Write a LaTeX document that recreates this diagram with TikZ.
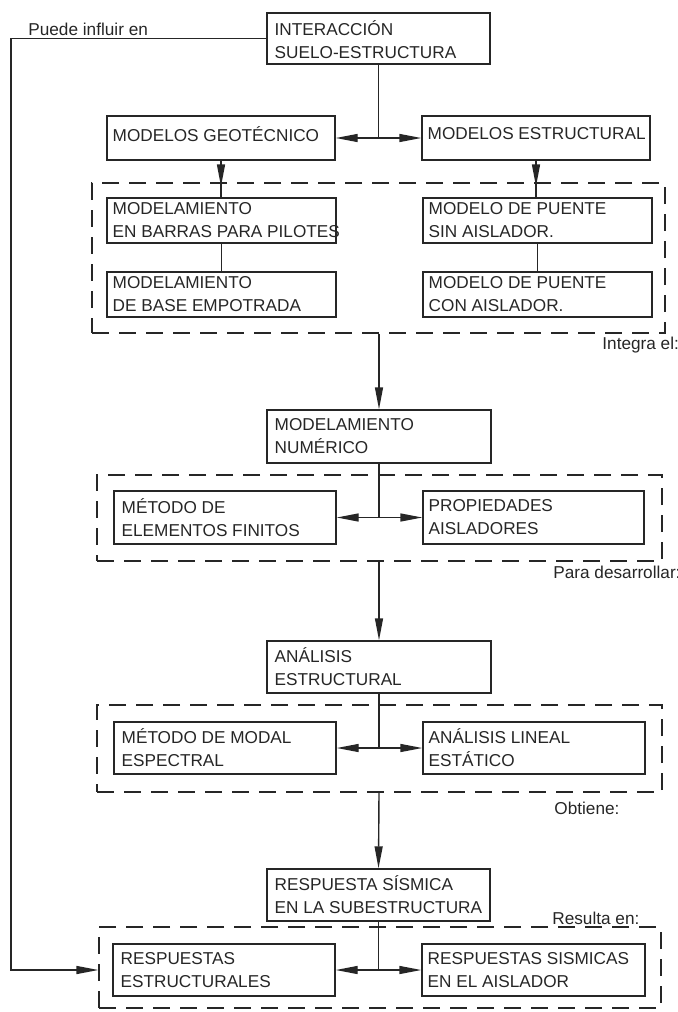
\documentclass[tikz,border=0pt]{standalone}
\usepackage{fontspec}
\setmainfont{Liberation Sans}
\usetikzlibrary{arrows.meta,fit}
\begin{document}
\begin{tikzpicture}[x=0.5pt,y=-0.5pt,
  box/.style={draw=black!85, line width=0.7pt, rectangle, inner sep=0pt},
  grp/.style={draw=black!85, line width=0.6pt, dash pattern=on 8.5pt off 5pt, rectangle, inner sep=0pt},
  txt/.style={inner sep=0pt, align=left, anchor=west, font=\fontsize{8.6}{11.5}\selectfont, text=black!85},
  lbl/.style={inner sep=0pt, anchor=west, font=\fontsize{8.6}{11.5}\selectfont, text=black!85},
  ln/.style={draw=black!85, line width=0.7pt},
  arr/.style={ln, -{Triangle[length=11pt,width=4pt]}},
]
\useasboundingbox (0,0) rectangle (678,1012);
% boxes
\node[box, fit={(267,13) (490,64)}] (int) {};
\node[box, fit={(107,116) (335,160)}] (geo) {};
\node[box, fit={(422,116) (650,160)}] (est) {};
\node[grp, fit={(92,183) (665,333)}] (g1) {};
\node[box, fit={(107,198) (336,243)}] (barras) {};
\node[box, fit={(107,272) (336,317)}] (base) {};
\node[box, fit={(423,198) (652,243)}] (sin) {};
\node[box, fit={(423,272) (652,317)}] (con) {};
\node[box, fit={(267,410) (491,463)}] (num) {};
\node[grp, fit={(97,475) (662,561)}] (g2) {};
\node[box, fit={(114,491) (336,544)}] (mef) {};
\node[box, fit={(423,491) (644,544)}] (prop) {};
\node[box, fit={(267,641) (491,693)}] (ana) {};
\node[grp, fit={(97,705) (662,792)}] (g3) {};
\node[box, fit={(114,722) (336,774)}] (modal) {};
\node[box, fit={(423,722) (645,774)}] (lineal) {};
\node[box, fit={(267,869) (490,921)}] (resp) {};
\node[grp, fit={(99,927) (661,1008)}] (g4) {};
\node[box, fit={(113,944) (335,996)}] (estr) {};
\node[box, fit={(422,944) (645,996)}] (ais) {};
% texts
\node[txt] (tint) at ([xshift=4pt,yshift=-0.5pt]int.west) {INTERACCIÓN\\SUELO-ESTRUCTURA};
\node[txt] (tgeo) at ([xshift=3pt,yshift=2pt]geo.west) {MODELOS GEOTÉCNICO};
\node[txt] (test) at ([xshift=3pt,yshift=2pt]est.west) {MODELOS ESTRUCTURAL};
\node[txt] (tbarras) at ([xshift=3pt]barras.west) {MODELAMIENTO\\EN BARRAS PARA PILOTES};
\node[txt] (tbase) at ([xshift=3pt]base.west) {MODELAMIENTO\\DE BASE EMPOTRADA};
\node[txt] (tsin) at ([xshift=3pt]sin.west) {MODELO DE PUENTE\\SIN AISLADOR.};
\node[txt] (tcon) at ([xshift=3pt]con.west) {MODELO DE PUENTE\\CON AISLADOR.};
\node[txt] (tnum) at ([xshift=4pt]num.west) {MODELAMIENTO\\NUMÉRICO};
\node[txt] (tmef) at ([xshift=4pt]mef.west) {MÉTODO DE\\ELEMENTOS FINITOS};
\node[txt] (tprop) at ([xshift=3pt]prop.west) {PROPIEDADES\\AISLADORES};
\node[txt] (tana) at ([xshift=4pt]ana.west) {ANÁLISIS\\ESTRUCTURAL};
\node[txt] (tmodal) at ([xshift=4pt]modal.west) {MÉTODO DE MODAL\\ESPECTRAL};
\node[txt] (tlineal) at ([xshift=3pt]lineal.west) {ANÁLISIS LINEAL\\ESTÁTICO};
\node[txt] (tresp) at ([xshift=4pt]resp.west) {RESPUESTA SÍSMICA\\EN LA SUBESTRUCTURA};
\node[txt] (testr) at ([xshift=4pt]estr.west) {RESPUESTAS\\ESTRUCTURALES};
\node[txt] (tais) at ([xshift=3pt]ais.west) {RESPUESTAS SISMICAS\\EN EL AISLADOR};
% labels
\node[lbl] (lpuede) at (28,29) {Puede influir en};
\node[lbl] (lintegra) at (602,345) {Integra el:};
\node[lbl] (lpara) at (553,572) {Para desarrollar:};
\node[lbl] (lobt) at (554,808) {Obtiene:};
\node[lbl] (lres) at (552,918) {Resulta en:};
% connectors
\draw[ln] (int.south) -- (int.south |- geo.east) coordinate (j1);
\draw[arr] (j1) -- (geo.east);
\draw[arr] (j1) -- (est.west);
\draw[ln] (geo.south) -- (geo.south |- barras.north);
\draw[arr] (geo.south) -- ([yshift=-2pt]geo.south |- g1.north);
\draw[ln] (est.south) -- (est.south |- sin.north);
\draw[arr] (est.south) -- ([yshift=-2pt]est.south |- g1.north);
\draw[ln] (barras.south) -- (barras.south |- base.north);
\draw[ln] (sin.south) -- (sin.south |- con.north);
\draw[arr] (num.north |- g1.south) -- (num.north);
\draw[ln] (num.south) -- (num.south |- mef.east) coordinate (j2);
\draw[arr] (j2) -- (mef.east);
\draw[arr] (j2) -- (prop.west);
\draw[arr] (num.south |- g2.south) -- (ana.north);
\draw[ln] (ana.south) -- (ana.south |- modal.east) coordinate (j3);
\draw[arr] (j3) -- (modal.east);
\draw[arr] (j3) -- (lineal.west);
\draw[arr] (ana.south |- g3.south) -- (resp.north);
\draw[ln] (resp.south) -- (resp.south |- estr.east) coordinate (j4);
\draw[arr] (j4) -- (estr.east);
\draw[arr] (j4) -- (ais.west);
\coordinate (fb) at (11,0);
\draw[arr] (int.west) -- (int.west -| fb) -- (fb |- estr.west) -- (g4.west |- estr.west);
\end{tikzpicture}
\end{document}
